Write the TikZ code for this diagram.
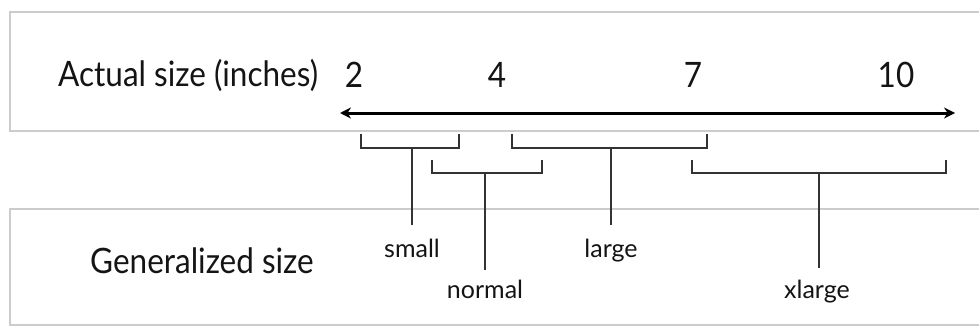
\documentclass[tikz,border=0pt]{standalone}
\usepackage{fontspec}
\setmainfont{Lato}
\newfontfamily\condfont{Lato}[FakeStretch=0.9]
\usetikzlibrary{arrows.meta}
\definecolor{boxgray}{HTML}{CCCCCC}
\definecolor{ink}{HTML}{141414}
\definecolor{brk}{HTML}{333333}
\tikzset{
  panel/.style={draw=boxgray, line width=1.4pt},
  big/.style={font=\condfont\fontsize{35}{40}\selectfont, text=ink, inner sep=0pt},
  num/.style={font=\condfont\fontsize{35}{40}\selectfont, text=ink, inner sep=0pt, anchor=base},
  lab/.style={font=\fontsize{25}{28}\selectfont, text=ink, inner sep=0pt, anchor=base},
  bracket/.style={draw=brk, line width=1.6pt},
  axis/.style={draw=black, line width=3pt, {Stealth[length=11pt,width=11pt]}-{Stealth[length=11pt,width=11pt]}}
}
\begin{document}
\begin{tikzpicture}[x=1pt,y=-1pt]
\useasboundingbox (0,0) rectangle (979,329);
% panels
\draw[panel] (979,12) -- (10,12) -- (10,131) -- (979,131);
\draw[panel] (979,209) -- (10,209) -- (10,325) -- (979,325);
% texts
\node[big, anchor=base west] (actual) at (58,86) {Actual size (inches)};
\node[big, anchor=base west] (gen) at (90,273) {Generalized size};
\node[num] (n2) at (354,87) {2};
\node[num] (n4) at (497,87) {4};
\node[num] (n7) at (693,87) {7};
\node[num] (n10) at (896,87) {10};
% axis
\coordinate (axl) at (340,113);
\coordinate (axr) at (955,113);
\draw[axis] (axl) -- (axr);
% labels
\node[lab] (small) at (412,257) {small};
\node[lab] (normal) at (485,298) {normal};
\node[lab] (large) at (611,257) {large};
\node[lab] (xlarge) at (817,298) {xlarge};
% brackets
\coordinate (sa) at (361,134); \coordinate (sb) at (459,134);
\coordinate (sm) at (412,148); \coordinate (se) at (412,225);
\draw[bracket] (sa) |- (sm) -| (sb);
\draw[bracket] (sm) -- (se);
\coordinate (na) at (432,160); \coordinate (nb) at (542,160);
\coordinate (nm) at (485,173); \coordinate (ne) at (485,270);
\draw[bracket] (na) |- (nm) -| (nb);
\draw[bracket] (nm) -- (ne);
\coordinate (la) at (512,134); \coordinate (lb) at (707,134);
\coordinate (lm) at (611,148); \coordinate (le) at (611,225);
\draw[bracket] (la) |- (lm) -| (lb);
\draw[bracket] (lm) -- (le);
\coordinate (xa) at (692,160); \coordinate (xb) at (946,160);
\coordinate (xm) at (819,173); \coordinate (xe) at (819,268);
\draw[bracket] (xa) |- (xm) -| (xb);
\draw[bracket] (xm) -- (xe);
\end{tikzpicture}
\end{document}
